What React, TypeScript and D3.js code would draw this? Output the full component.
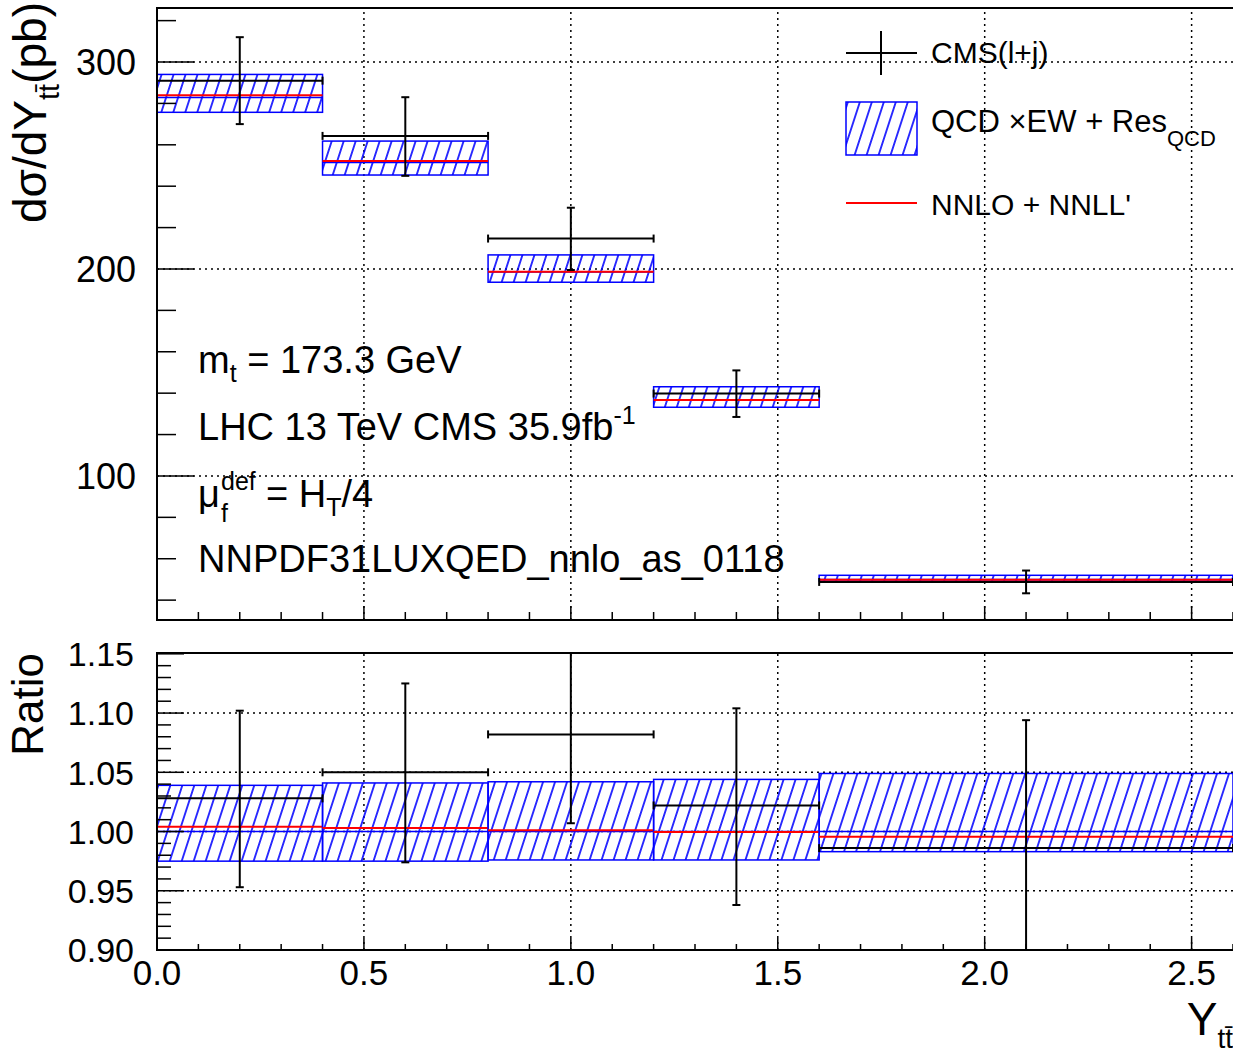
import React from 'react'
import * as d3 from 'd3'

// bins in Y(tt)
const binEdges = [0, 0.4, 0.8, 1.2, 1.6, 2.6]
const cmsX = [0.2, 0.6, 1.0, 1.4, 2.1]

// upper pad: d sigma / dY (pb)
const cmsVal = [291, 264.3, 214.7, 139.8, 48.8]
const cmsLow = [270, 245, 199.5, 128.5, 43.3]
const cmsHigh = [312, 283, 229.6, 151, 54.3]
const bandLow = [275.7, 245.4, 193.6, 133.2, 49.2]
const bandHigh = [294, 261.8, 206.8, 143.1, 52.0]
const bandMid = [282.8, 251.4, 198.5, 136.8, 50.0]
const nnloVal = [283.9, 252.2, 198.7, 136.7, 49.8]

// lower pad: ratio to QCDxEW + Res
const ratioCms = [1.028, 1.05, 1.082, 1.022, 0.986]
const ratioCmsLow = [0.953, 0.974, 1.007, 0.938, 0.878]
const ratioCmsHigh = [1.102, 1.125, 1.158, 1.104, 1.094]
const ratioBandLow = [0.975, 0.975, 0.976, 0.976, 0.983]
const ratioBandHigh = [1.039, 1.041, 1.042, 1.044, 1.049]
const ratioBandMid = [1.0, 1.0, 1.0, 1.0, 1.0]
const ratioNnlo = [1.004, 1.003, 1.001, 0.9995, 0.9955]

const xTickLabels = ['0.0', '0.5', '1.0', '1.5', '2.0', '2.5']
const topTickLabels = ['100', '200', '300']
const ratioTickLabels = ['0.90', '0.95', '1.00', '1.05', '1.10', '1.15']

const W = 1233
const H = 1053
const left = 157
const right = 1233
const top1 = 8
const bottom1 = 620
const top2 = 653
const bottom2 = 950
const font = '"Liberation Sans", Arial, Helvetica, sans-serif'
const blue = '#0000ff'
const red = '#ff0000'

const x = d3.scaleLinear().domain([0, 2.6]).range([left, right])
const yTop = d3.scaleLinear().domain([30.4, 326.1]).range([bottom1, top1])
const yRat = d3.scaleLinear().domain([0.9, 1.1507]).range([bottom2, top2])

const near = (v, step) => Math.abs(v / step - Math.round(v / step)) < 1e-6

function Grid ({ y, yGrid, y0, y1 }) {
  const dash = '2 4'
  return (
    <g stroke='#000' strokeWidth={1.5} strokeDasharray={dash}>
      {[0.5, 1.0, 1.5, 2.0, 2.5].map((v) => (
        <line key={'gx' + v} x1={x(v)} x2={x(v)} y1={y0} y2={y1} />
      ))}
      {yGrid.map((v) => (
        <line key={'gy' + v} x1={left} x2={right} y1={y(v)} y2={y(v)} />
      ))}
    </g>
  )
}

function Series ({ y, low, high, mid, nnlo, cv, clo, chi, clip }) {
  const cap = 4
  return (
    <g clipPath={`url(#${clip})`}>
      {low.map((v, i) => {
        const x0 = x(binEdges[i])
        const x1 = x(binEdges[i + 1])
        return (
          <g key={'b' + i}>
            <rect x={x0} y={y(high[i])} width={x1 - x0} height={y(v) - y(high[i])}
              fill='url(#hatch)' stroke={blue} strokeWidth={1.5} />
            <line x1={x0} x2={x1} y1={y(mid[i])} y2={y(mid[i])} stroke={blue} strokeWidth={1.5} />
            <line x1={x0} x2={x1} y1={y(nnlo[i])} y2={y(nnlo[i])} stroke={red} strokeWidth={2} />
          </g>
        )
      })}
      {cv.map((v, i) => {
        const x0 = x(binEdges[i])
        const x1 = x(binEdges[i + 1])
        const xc = x(cmsX[i])
        const yc = y(v)
        return (
          <g key={'c' + i} stroke='#000' strokeWidth={2}>
            <line x1={x0} x2={x1} y1={yc} y2={yc} />
            <line x1={x0} x2={x0} y1={yc - cap} y2={yc + cap} />
            <line x1={x1} x2={x1} y1={yc - cap} y2={yc + cap} />
            <line x1={xc} x2={xc} y1={y(chi[i])} y2={y(clo[i])} />
            <line x1={xc - cap} x2={xc + cap} y1={y(chi[i])} y2={y(chi[i])} />
            <line x1={xc - cap} x2={xc + cap} y1={y(clo[i])} y2={y(clo[i])} />
          </g>
        )
      })}
    </g>
  )
}

function Axes ({ y, y0, y1, yMinor, yMajor, yMajLen, yMinLen, xMajLen, xMinLen }) {
  const xTicks = d3.range(0, 27).map((k) => k / 10)
  return (
    <g stroke='#000'>
      <path d={`M${right + 2},${y1} H${left} V${y0} H${right + 2}`} fill='none' strokeWidth={2} />
      {xTicks.map((v) => {
        const len = near(v, 0.5) ? xMajLen : xMinLen
        return <line key={'xt' + v} x1={x(v)} x2={x(v)} y1={y0} y2={y0 - len} strokeWidth={1.5} />
      })}
      {yMinor.map((v) => (
        <line key={'ym' + v} x1={left} x2={left + yMinLen} y1={y(v)} y2={y(v)} strokeWidth={1.5} />
      ))}
      {yMajor.map((v) => (
        <line key={'yM' + v} x1={left} x2={left + yMajLen} y1={y(v)} y2={y(v)} strokeWidth={1.5} />
      ))}
    </g>
  )
}

export default function App () {
  const topMajor = topTickLabels.map(Number)
  const topMinor = d3.range(40, 330, 20).filter((v) => !near(v, 100))
  const ratMajor = ratioTickLabels.map(Number)
  const ratMinor = d3.range(90, 116).map((k) => k / 100).filter((v) => !near(v, 0.05))

  return (
    <svg width={W} height={H} style={{ position: 'absolute', left: 0, top: 0, background: '#fff' }}
      fontFamily={font}>
      <defs>
        <pattern id='hatch' patternUnits='userSpaceOnUse' width={11.4} height={10}
          patternTransform='rotate(18)'>
          <line x1={5.7} x2={5.7} y1={-1} y2={11} stroke={blue} strokeWidth={1.6} />
        </pattern>
        <clipPath id='clipTop'>
          <rect x={left} y={top1} width={right - left} height={bottom1 - top1} />
        </clipPath>
        <clipPath id='clipRat'>
          <rect x={left} y={top2} width={right - left} height={bottom2 - top2} />
        </clipPath>
      </defs>
      <rect width={W} height={H} fill='#fff' />

      {/* upper pad */}
      <Grid y={yTop} yGrid={topMajor} y0={bottom1} y1={top1} />
      <Series y={yTop} low={bandLow} high={bandHigh} mid={bandMid} nnlo={nnloVal}
        cv={cmsVal} clo={cmsLow} chi={cmsHigh} clip='clipTop' />
      <Axes y={yTop} y0={bottom1} y1={top1} yMinor={topMinor} yMajor={topMajor}
        yMajLen={37} yMinLen={19} xMajLen={14} xMinLen={8} />
      <g fontSize={36} textAnchor='end'>
        {topTickLabels.map((t) => (
          <text key={t} x={136} y={yTop(+t)} dy='0.36em'>{t}</text>
        ))}
      </g>
      <text transform='translate(46,2) rotate(-90)' textAnchor='end' fontSize={46}>
        dσ/dY<tspan fontSize={29} dy={13}>tt&#x0304;</tspan><tspan dy={-13}>(pb)</tspan>
      </text>

      {/* annotations */}
      <g fontSize={38}>
        <text x={198} y={373}>m<tspan fontSize={25} dy={9}>t</tspan><tspan dy={-9}> = 173.3 GeV</tspan></text>
        <text x={198} y={440}>LHC 13 TeV CMS 35.9fb<tspan fontSize={25} dy={-16}>-1</tspan></text>
        <text x={198} y={507}>μ</text>
        <text x={221} y={490} fontSize={25}>def</text>
        <text x={221} y={522} fontSize={25}>f</text>
        <text x={266} y={507}>= H<tspan fontSize={25} dy={9}>T</tspan><tspan dy={-9}>/4</tspan></text>
        <text x={198} y={572}>NNPDF31LUXQED_nnlo_as_0118</text>
      </g>

      {/* legend */}
      <g>
        <line x1={846} x2={917} y1={53} y2={53} stroke='#000' strokeWidth={2} />
        <line x1={881} x2={881} y1={31} y2={75} stroke='#000' strokeWidth={2} />
        <rect x={846} y={102} width={71} height={53} fill='url(#hatch)' stroke={blue} strokeWidth={1.5} />
        <line x1={846} x2={917} y1={203} y2={203} stroke={red} strokeWidth={2} />
        <g fontSize={30}>
          <text x={931} y={63}>CMS(l+j)</text>
          <text x={931} y={132} fontSize={31}>QCD ×EW + Res<tspan fontSize={22} dy={14}>QCD</tspan></text>
          <text x={931} y={215}>NNLO + NNLL'</text>
        </g>
      </g>

      {/* ratio pad */}
      <Grid y={yRat} yGrid={[0.95, 1.0, 1.05, 1.1]} y0={bottom2} y1={top2} />
      <Series y={yRat} low={ratioBandLow} high={ratioBandHigh} mid={ratioBandMid} nnlo={ratioNnlo}
        cv={ratioCms} clo={ratioCmsLow} chi={ratioCmsHigh} clip='clipRat' />
      <Axes y={yRat} y0={bottom2} y1={top2} yMinor={ratMinor} yMajor={ratMajor}
        yMajLen={27} yMinLen={14} xMajLen={12} xMinLen={6} />
      <g fontSize={34} textAnchor='end'>
        {ratioTickLabels.map((t) => (
          <text key={t} x={134} y={yRat(+t)} dy='0.36em'>{t}</text>
        ))}
      </g>
      <g fontSize={35} textAnchor='middle'>
        {xTickLabels.map((t) => (
          <text key={t} x={x(+t)} y={985}>{t}</text>
        ))}
      </g>
      <text transform='translate(43,653) rotate(-90)' textAnchor='end' fontSize={44}>Ratio</text>
      <text x={1233} y={1035} textAnchor='end' fontSize={46}>
        Y<tspan fontSize={28} dy={13}>tt&#x0304;</tspan>
      </text>
    </svg>
  )
}
